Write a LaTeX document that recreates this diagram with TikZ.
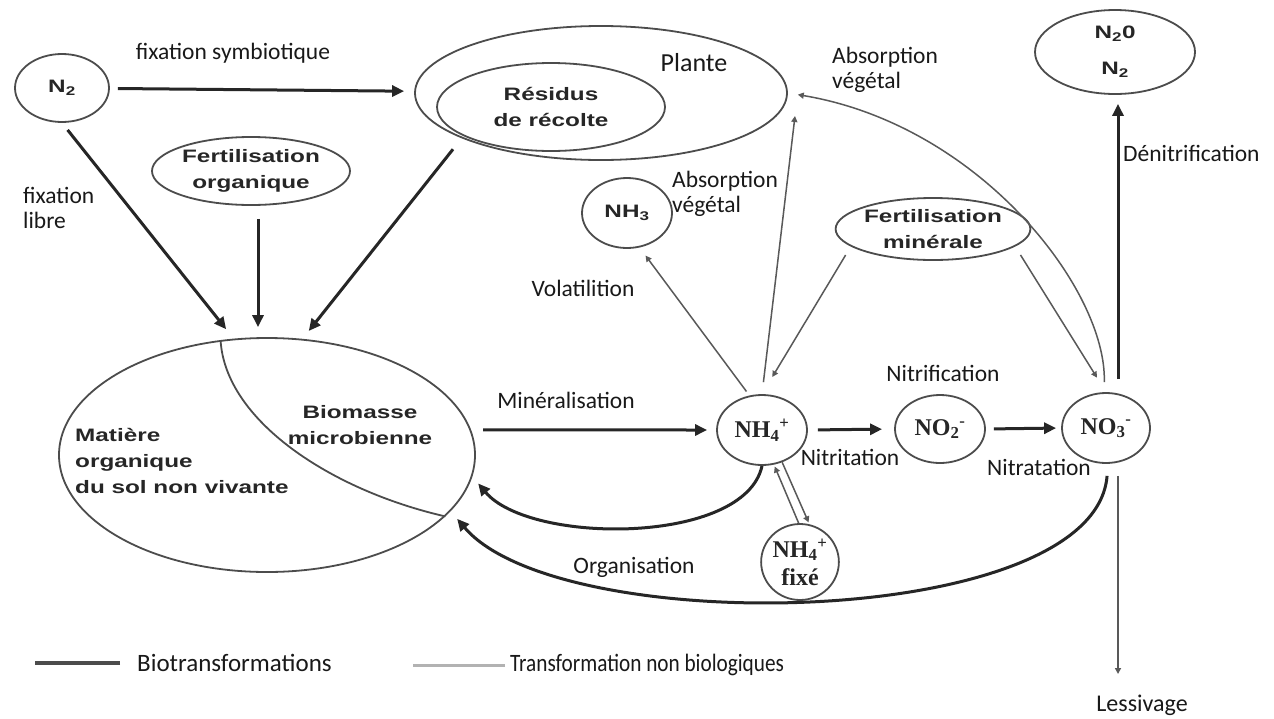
\documentclass[tikz,border=0pt]{standalone}
\usepackage{fontspec}
\setmainfont{Carlito}
\newfontfamily\nsans{Liberation Sans}[FakeStretch=1.35]
\newfontfamily\nserif{Liberation Serif}
\newfontfamily\legfont{Carlito}[FakeStretch=0.85]
\usetikzlibrary{arrows.meta,shapes.geometric}
\tikzset{
  ovalnode/.style={draw=black!70, line width=1.8pt, ellipse, inner sep=0pt, align=center,
    font=\nsans\bfseries\fontsize{18}{26}\selectfont, text=black!85},
  ionnode/.style={ovalnode, font=\nserif\bfseries\fontsize{24}{28}\selectfont},
  bio/.style={draw=black!85, line width=3pt, -{Triangle[length=12pt,width=11pt]}},
  nonbio/.style={draw=black!65, line width=1.5pt, -{Triangle[length=6pt,width=6pt]}},
  lbl/.style={font=\fontsize{23.5}{25}\selectfont, text=black!90, inner sep=0pt, align=left},
}
\begin{document}
\begin{tikzpicture}[x=1pt,y=-1pt]
\useasboundingbox[fill=white] (0,0) rectangle (1274,718);

% nodes
\node[ovalnode, minimum width=94pt, minimum height=68pt] (n2) at (62,88) {N\textsubscript{2}};
\node[ovalnode, minimum width=372pt, minimum height=134pt] (plante) at (601,93) {};
\node[ovalnode, minimum width=228pt, minimum height=88pt] (res) at (551,107) {Résidus\\de récolte};
\node[ovalnode, minimum width=198pt, minimum height=68pt] (fo) at (251,171) {Fertilisation\\organique};
\node[ovalnode, minimum width=416pt, minimum height=234pt] (mo) at (267,455) {};
\node[ovalnode, minimum width=90pt, minimum height=70pt] (nh3) at (627,213) {NH\textsubscript{3}};
\node[ovalnode, minimum width=188pt, minimum height=62pt] (fm) at (933,229) {Fertilisation\\minérale};
\node[ovalnode, minimum width=160pt, minimum height=84pt, font=\nsans\bfseries\fontsize{18}{36}\selectfont] (n2o) at (1115,52) {N\textsubscript{2}0\\N\textsubscript{2}};
\node[ionnode, minimum width=90pt, minimum height=70pt] (nh4) at (762,430) {NH\textsubscript{4}\textsuperscript{+}};
\node[ionnode, minimum width=90pt, minimum height=68pt] (no2) at (940,429) {NO\textsubscript{2}\textsuperscript{-}};
\node[ionnode, minimum width=88pt, minimum height=70pt] (no3) at (1106,428) {NO\textsubscript{3}\textsuperscript{-}};
\node[ionnode, minimum width=76pt, minimum height=76pt] (fixe) at (800,562) {NH\textsubscript{4}\textsuperscript{+}\\fixé};

% division inside soil organic matter
\draw[draw=black!70, line width=1.8pt] (mo.112) .. controls (225,420) and (330,490) .. (mo.-19);
\node[anchor=west, align=left, inner sep=0pt, font=\nsans\bfseries\fontsize{18}{26}\selectfont, text=black!85] (tmo) at (75,461) {Matière\\organique\\du sol non vivante};
\node[align=center, inner sep=0pt, font=\nsans\bfseries\fontsize{18}{26}\selectfont, text=black!85] (tbio) at (360,425) {Biomasse\\microbienne};

% labels
\node[lbl] (lfs) at (233,53) {fixation symbiotique};
\node[lbl, anchor=west] (lfl) at (23,208) {fixation\\libre};
\node[font=\fontsize{26}{30}\selectfont, text=black!90, inner sep=0pt] (lpl) at (694,63) {Plante};
\node[lbl, anchor=west] (labs1) at (832,70) {Absorption\\végétal};
\node[lbl, anchor=west] (labs2) at (672,194) {Absorption\\végétal};
\node[lbl, anchor=west] (lden) at (1123,153) {Dénitrification};
\node[lbl] (lvol) at (583,288) {Volatilition};
\node[lbl] (lmin) at (566,400) {Minéralisation};
\node[lbl] (lnif) at (943,373) {Nitrification};
\node[lbl] (lnit) at (850,457) {Nitritation};
\node[lbl] (lnat) at (1039,467) {Nitratation};
\node[lbl] (lorg) at (634,567) {Organisation};
\node[lbl, font=\fontsize{24}{26}\selectfont] (lless) at (1142,705) {Lessivage};
\node[lbl, anchor=west, font=\fontsize{25}{27}\selectfont] (lbio) at (137,663) {Biotransformations};
\node[lbl, anchor=west, font=\legfont\fontsize{25}{27}\selectfont] (lnb) at (510,665) {Transformation non biologiques};

\coordinate (plantein) at (795,116);
\coordinate (lessend) at (1118,674);

% biotransformations (thick)
\draw[bio, shorten <=8pt, shorten >=10pt] (n2) -- (plante);
\draw[bio, shorten <=9pt, shorten >=12pt] (n2.south) -- (mo.106);
\draw[bio, shorten <=13pt, shorten >=10pt] ([xshift=7pt]fo.south) -- ([xshift=-9pt]mo.north);
\draw[bio, shorten <=14pt, shorten >=10pt] (plante.198) -- (mo.73);
\draw[bio, shorten <=12pt, shorten >=9pt] (mo.7) -- (nh4.west);
\draw[bio, shorten <=10pt, shorten >=12pt] (nh4.east) -- (no2.west);
\draw[bio, shorten <=8pt, shorten >=5pt] (no2.east) -- (no3.west);
\draw[bio, shorten <=13pt, shorten >=9pt] ([xshift=12pt]no3.north) -- ([xshift=3pt]n2o.south);
\draw[bio, shorten >=9pt] (nh4.south) .. controls (745,545) and (530,545) .. (mo.-6);
\draw[bio, shorten <=12pt, shorten >=10pt] ([xshift=2pt]no3.south) .. controls (1095,630) and (560,640) .. (mo.-17);

% non biological (thin)
\draw[nonbio, shorten <=12pt] (nh4.north) -- (plantein);
\draw[nonbio, shorten <=10pt, shorten >=10pt] ([xshift=-2pt]no3.north) .. controls (1107,290) and (980,125) .. (plante.east);
\draw[nonbio, shorten <=10pt, shorten >=20pt] (fm.192) -- (nh4.north);
\draw[nonbio, shorten <=10pt, shorten >=17pt] (fm.-12) -- (no3.north);
\draw[nonbio, shorten <=5pt, shorten >=10pt] (nh4.110) -- (nh3.290);
\draw[nonbio, shorten >=2pt] (fixe.92) -- (nh4.289);
\draw[nonbio, shorten >=2pt] (nh4.302) -- (fixe.76);
\draw[nonbio, shorten <=12pt] ([xshift=12pt]no3.south) -- (lessend);

% legend
\draw[line width=4pt, black!70] ([xshift=-17pt]lbio.west) -- ++(-85,0);
\draw[line width=3pt, black!30] ([xshift=-5pt]lnb.west) -- ++(-92,0);
\end{tikzpicture}
\end{document}
